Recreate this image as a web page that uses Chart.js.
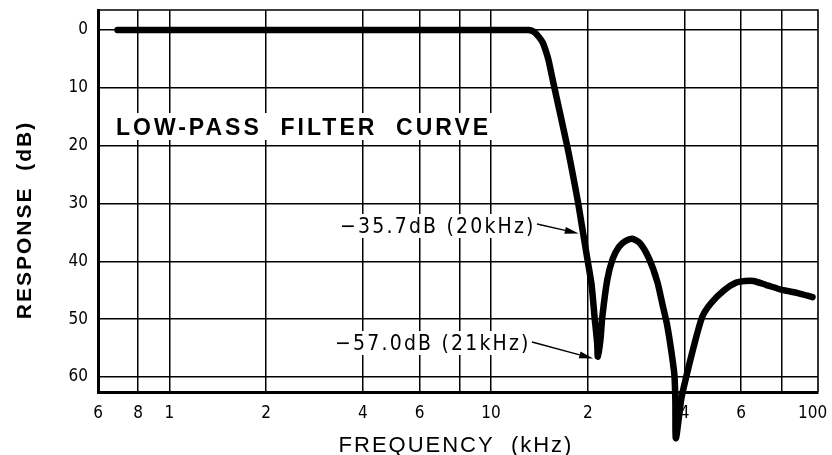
<!DOCTYPE html>
<html>
<head>
<meta charset="utf-8">
<script src="https://cdn.jsdelivr.net/npm/chart.js@4/dist/chart.umd.min.js"></script>
<style>
  html, body { margin: 0; padding: 0; background: #ffffff; }
  #wrap { width: 832px; height: 455px; position: relative; }
</style>
</head>
<body>
<div id="wrap"><canvas id="c" width="832" height="455"></canvas></div>
<script>
// ---- data ----
const frequencyKHz = [0.69, 12.5, 13.1, 13.6, 14.1, 14.5, 14.85, 15.1, 15.7, 17.3, 18.6, 19.2, 20.0,
  20.55, 21.0, 21.4, 21.5, 21.9, 22.2, 23.0, 23.9, 25.0, 26.2, 27.5, 29.1, 31.0, 32.9,
  34.2, 35.3, 36.4, 37.2, 37.45, 37.6, 39.1, 40.4, 42.6, 45.4, 48.4, 53.1, 57.7, 61.8,
  65.5, 71.9, 81.1, 90.0, 100];
const responseDB = [0, 0, 0, 0.3, 1.2, 2.2, 3.8, 5.2, 9.6, 20.3, 29.4, 34.0, 40.0,
  44.0, 49.6, 54.2, 56.5, 53.6, 49.6, 43.2, 39.6, 37.5, 36.5, 36.1, 36.9, 39.5, 43.5,
  47.6, 51.0, 55.6, 59.7, 64.0, 70.6, 63.7, 60.2, 55.0, 49.6, 47.2, 45.0, 43.7, 43.4,
  43.4, 44.1, 45.0, 45.5, 46.2];
const xTickValues = [0.6, 0.8, 1, 2, 4, 6, 8, 10, 20, 40, 60, 80, 100];
const xTickLabels = ['6', '8', '1', '2', '4', '6', '', '10', '2', '4', '6', '', '100'];
const yTickValues = [0, 10, 20, 30, 40, 50, 60];
const chartTitle = 'LOW-PASS  FILTER  CURVE';
const xAxisTitle = 'FREQUENCY  (kHz)';
const yAxisTitle = 'RESPONSE  (dB)';
const noteTexts = ['\u221235.7dB (20kHz)', '\u221257.0dB (21kHz)'];
const noteFreqKHz = [20, 21.4];
const noteDB = [35.7, 57.0];

// ---- styling ----
const SANS = "'Liberation Sans', Arial, Helvetica, sans-serif";
const NARROW = "'Liberation Sans Narrow', 'DejaVu Sans Condensed', 'Liberation Sans', Arial, sans-serif";

function drawSpaced(ctx, text, x, y, spacing) {
  ctx.letterSpacing = spacing + 'px';
  ctx.fillText(text, x, y);
  ctx.letterSpacing = '0px';
}
function measureSpaced(ctx, text, spacing) {
  ctx.letterSpacing = spacing + 'px';
  const w = ctx.measureText(text).width - spacing;
  ctx.letterSpacing = '0px';
  return w;
}

const overlay = {
  id: 'overlay',
  beforeDatasetsDraw(chart) {
    const { ctx, chartArea: a, scales: { x, y } } = chart;
    ctx.save();
    // top and right frame
    ctx.strokeStyle = '#000';
    ctx.lineWidth = 1.6;
    ctx.beginPath();
    ctx.moveTo(a.left, a.top);
    ctx.lineTo(a.right, a.top);
    ctx.lineTo(a.right, a.bottom);
    ctx.stroke();

    ctx.textBaseline = 'alphabetic';
    ctx.textAlign = 'left';

    // main label with white background
    ctx.font = 'bold 23px ' + SANS;
    let w = measureSpaced(ctx, chartTitle, 3);
    ctx.fillStyle = '#fff';
    ctx.fillRect(112, 113, w + 8, 27);
    ctx.fillStyle = '#000';
    drawSpaced(ctx, chartTitle, 116, 135, 3);

    // notes with arrows
    const noteLeft = [340, 335];
    const noteBase = [233, 350];
    const tails = [[537, 224], [532, 342]];
    const tipOffset = [[-9, -3], [-4, -1]];
    ctx.font = '21px ' + NARROW;
    for (let i = 0; i < noteTexts.length; i++) {
      w = measureSpaced(ctx, noteTexts[i], 2.2);
      ctx.fillStyle = '#fff';
      ctx.fillRect(noteLeft[i] - 4, noteBase[i] - 19, w + 8, 24);
      ctx.fillStyle = '#000';
      drawSpaced(ctx, noteTexts[i], noteLeft[i], noteBase[i], 2.2);
      const tx = x.getPixelForValue(noteFreqKHz[i]) + tipOffset[i][0];
      const ty = y.getPixelForValue(noteDB[i]) + tipOffset[i][1];
      const [sx, sy] = tails[i];
      const ang = Math.atan2(ty - sy, tx - sx);
      const hl = 14, hw = 3.5;
      const bx = tx - hl * Math.cos(ang), by = ty - hl * Math.sin(ang);
      ctx.strokeStyle = '#000';
      ctx.lineWidth = 1.4;
      ctx.beginPath();
      ctx.moveTo(sx, sy);
      ctx.lineTo(bx, by);
      ctx.stroke();
      ctx.beginPath();
      ctx.moveTo(tx, ty);
      ctx.lineTo(bx + hw * Math.sin(ang), by - hw * Math.cos(ang));
      ctx.lineTo(bx - hw * Math.sin(ang), by + hw * Math.cos(ang));
      ctx.closePath();
      ctx.fill();
    }

    // axis titles
    ctx.fillStyle = '#000';
    ctx.font = '22px ' + SANS;
    w = measureSpaced(ctx, xAxisTitle, 2);
    drawSpaced(ctx, xAxisTitle, 455 - w / 2, 452, 2);

    ctx.font = 'bold 21px ' + SANS;
    w = measureSpaced(ctx, yAxisTitle, 2);
    ctx.translate(31, 221);
    ctx.rotate(-Math.PI / 2);
    drawSpaced(ctx, yAxisTitle, -w / 2, 0, 2);
    ctx.restore();
  }
};

new Chart(document.getElementById('c'), {
  type: 'scatter',
  data: {
    datasets: [{
      data: frequencyKHz.map((f, i) => ({ x: f, y: responseDB[i] })),
      showLine: true,
      borderColor: '#000',
      backgroundColor: '#000',
      borderWidth: 6.5,
      pointRadius: 0,
      tension: 0.25,
      capBezierPoints: false,
      borderCapStyle: 'round',
      borderJoinStyle: 'round',
      clip: false
    }]
  },
  options: {
    responsive: false,
    animation: false,
    devicePixelRatio: 1,
    layout: { padding: { top: 10, right: 14, left: 0, bottom: 0 } },
    plugins: { legend: { display: false }, tooltip: { enabled: false }, title: { display: false } },
    scales: {
      x: {
        type: 'logarithmic',
        min: 0.6,
        max: 104,
        afterBuildTicks: (s) => { s.ticks = xTickValues.map(v => ({ value: v })); },
        afterFit: (s) => { s.height = 63; s.paddingLeft = 0; s.paddingRight = 0; },
        grid: {
          color: (c) => (c.tick && c.tick.value === 100 ? 'rgba(0,0,0,0)' : '#000'),
          lineWidth: 1.5, drawTicks: false
        },
        border: { color: '#000', width: 3 },
        ticks: {
          autoSkip: false, maxRotation: 0, minRotation: 0, padding: 11,
          color: '#000', font: { family: NARROW, size: 17 },
          callback: (v, i) => xTickLabels[i]
        }
      },
      y: {
        type: 'linear',
        reverse: true,
        min: -3.46,
        max: 62.6,
        afterBuildTicks: (s) => { s.ticks = yTickValues.map(v => ({ value: v })); },
        afterFit: (s) => { s.width = 98; s.paddingTop = 0; s.paddingBottom = 0; },
        grid: { color: '#000', lineWidth: 1.5, drawTicks: false },
        border: { color: '#000', width: 3 },
        ticks: {
          padding: 10, color: '#000', font: { family: NARROW, size: 17 },
          callback: (v) => String(v)
        }
      }
    }
  },
  plugins: [overlay]
});
</script>
</body>
</html>
